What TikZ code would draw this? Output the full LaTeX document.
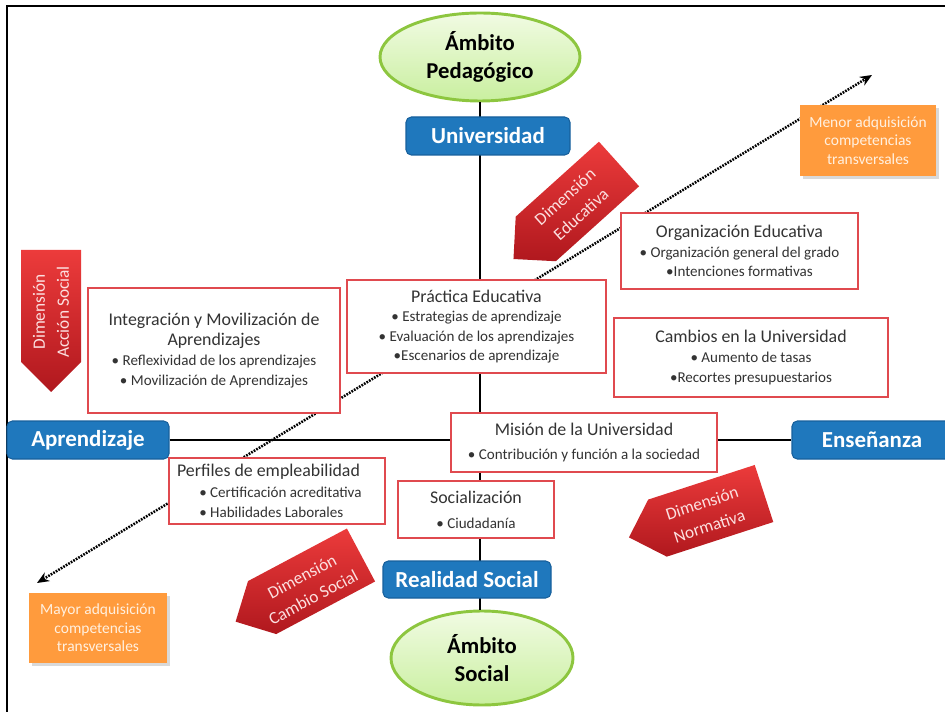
\documentclass[tikz,border=0pt]{standalone}
\usepackage{fontspec}
\setmainfont{Carlito}
\usetikzlibrary{shapes.geometric,arrows.meta,shadows}
\definecolor{cblue}{HTML}{1F78BD}
\definecolor{cblueedge}{HTML}{17609C}
\definecolor{cgreenedge}{HTML}{8DC63F}
\definecolor{cgreentop}{HTML}{F1FBE3}
\definecolor{cgreenbot}{HTML}{C9EF9F}
\definecolor{credge}{HTML}{E04A4F}
\definecolor{credtop}{HTML}{EC3B3B}
\definecolor{credbot}{HTML}{B0181E}
\definecolor{corange}{HTML}{FF9B3D}
\definecolor{corangetext}{HTML}{FFF0E0}
\definecolor{carrowtext}{HTML}{FCE0E0}
\definecolor{cbody}{HTML}{333333}
\newcommand{\ttl}{\fontsize{13.4}{15}\selectfont}
\newcommand{\dimarrow}[6]{%
  \begin{scope}[shift={#2}, rotate=#3]
    \shade[dimshade] (0,-30) -- (-112,-30) -- (-142,0) -- (-112,30) -- (0,30) -- cycle;
    \node[dimtext, rotate=#3] (#1) at (-62,#4) {#5\\#6};
  \end{scope}}
\tikzset{
  redbox/.style={draw=credge, line width=1.3pt, fill=white, align=center, text=cbody,
    font=\fontsize{11.3}{14.6}\selectfont, inner sep=2pt},
  bluebox/.style={draw=cblueedge, line width=0.8pt, fill=cblue, rounded corners=4pt,
    text=white, font=\fontsize{17.2}{20}\selectfont\bfseries, inner sep=0pt},
  ambito/.style={ellipse, draw=cgreenedge, line width=2.2pt, top color=cgreentop,
    bottom color=cgreenbot, align=center, font=\fontsize{17}{21}\selectfont\bfseries, inner sep=0pt},
  orangebox/.style={fill=corange, text=corangetext, align=center,
    font=\fontsize{11.6}{13.9}\selectfont, inner sep=0pt,
    drop shadow={shadow xshift=2pt, shadow yshift=-2pt, opacity=0.3}},
  dimshade/.style={top color=credtop, bottom color=credbot},
  dimtext/.style={text=carrowtext, align=center, font=\fontsize{13}{18}\selectfont, inner sep=0pt},
  axisline/.style={line width=1.9pt, black},
  frameline/.style={line width=1.5pt, black},
  dotarrow/.style={line width=1.9pt, dash pattern=on 1.3pt off 0.9pt,
    {Stealth[length=9pt,width=7.5pt]}-{Stealth[length=9pt,width=7.5pt]}},
  plaintext/.style={text=cbody, align=left, inner sep=0pt},
}
\begin{document}
\begin{tikzpicture}[x=0.75pt, y=-0.75pt]
\useasboundingbox (0,0) rectangle (945,712);
% frame
\draw[frameline] (7,712) -- (7,6.5) -- (945,6.5);

% dotted diagonal
\coordinate (dlo) at (37,583);
\coordinate (dhi) at (872,75);
\draw[dotarrow] (dlo) -- (dhi);

% ellipses and blue boxes
\node[ambito, minimum width=150pt, minimum height=66pt] (pe) at (480,57) {Ámbito\\Pedagógico};
\node[ambito, minimum width=136.5pt, minimum height=70.5pt] (ps) at (482,658) {Ámbito\\Social};
\draw[axisline] (pe.south) -- (pe.south |- ps.north);

\node[bluebox, minimum width=121.5pt, minimum height=28.5pt] (apr) at (88,440) {Aprendizaje};
\node[bluebox, minimum width=120pt, minimum height=28.5pt] (ens) at (872,440) {Enseñanza};
\draw[axisline] (apr.east) -- (ens.west);

\node[bluebox, minimum width=123pt, minimum height=28.5pt] (uni) at (488,136) {Universidad};
\node[bluebox, minimum width=126pt, minimum height=27.75pt] (rs) at (467,579.5) {Realidad Social};

% orange boxes
\node[orangebox, minimum width=102pt, minimum height=53.25pt] (menor) at (868,140.5)
  {Menor adquisición\\competencias\\transversales};
\node[orangebox, minimum width=103.5pt, minimum height=52.5pt] (mayor) at (98,628)
  {Mayor adquisición\\competencias\\transversales};

% red boxes
\node[redbox, minimum width=177.75pt, minimum height=57pt] (org) at (739.5,251)
  {{\ttl Organización Educativa}\\• Organización general del grado\\•Intenciones formativas};
\node[redbox, minimum width=194.25pt, minimum height=69.75pt] (prac) at (476.5,326.5)
  {{\ttl Práctica Educativa}\\• Estrategias de aprendizaje\\• Evaluación de los aprendizajes\\•Escenarios de aprendizaje};
\node[redbox, minimum width=189pt, minimum height=93.75pt, font=\fontsize{11.3}{15}\selectfont] (integ) at (214,350.5)
  {{\ttl Integración y Movilización de}\\{\ttl Aprendizajes}\\• Reflexividad de los aprendizajes\\• Movilización de Aprendizajes};
\node[redbox, minimum width=205.5pt, minimum height=59.25pt, font=\fontsize{11.3}{15}\selectfont] (camb) at (751,357.5)
  {{\ttl Cambios en la Universidad}\\• Aumento de tasas\\•Recortes presupuestarios};
\node[redbox, minimum width=199.5pt, minimum height=44.25pt, font=\fontsize{11.3}{18}\selectfont] (mis) at (584,442.5)
  {{\ttl Misión de la Universidad}\\• Contribución y función a la sociedad};
\node[redbox, minimum width=117pt, minimum height=42.75pt, font=\fontsize{11.3}{18.75}\selectfont] (soc) at (476,509.5)
  {{\ttl Socialización}\\• Ciudadanía};
\node[redbox, minimum width=162pt, minimum height=49.5pt] (perf) at (277,491) {};
\node[plaintext, font=\ttl] (perfT) at (268.5,472) {Perfiles de empleabilidad};
\node[plaintext, anchor=west, font=\fontsize{11.3}{15}\selectfont] (perfB) at (199,502.5)
  {• Certificación acreditativa\\• Habilidades Laborales};

% red dimension arrows
\dimarrow{dacc}{(51,250)}{90}{0}{Dimensión}{Acción Social}
\dimarrow{dedu}{(619,164)}{42}{0}{Dimensión}{Educativa}
\dimarrow{dnor}{(764,493.5)}{18}{2}{Dimensión}{Normativa}
\dimarrow{dcam}{(361,555)}{28}{3}{Dimensión}{Cambio Social}
\end{tikzpicture}
\end{document}
